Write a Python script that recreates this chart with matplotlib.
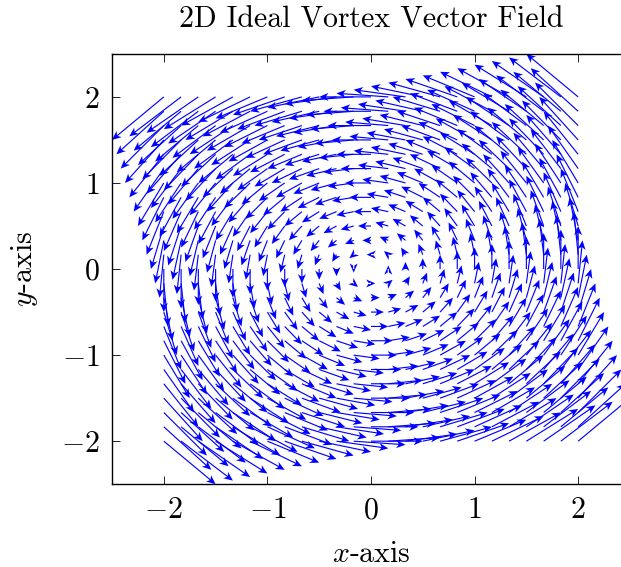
import numpy as np
import matplotlib
matplotlib.use("Agg")
import matplotlib.pyplot as plt

plt.rcParams["font.family"] = "serif"
plt.rcParams["font.serif"] = ["cmr10"]
plt.rcParams["mathtext.fontset"] = "cm"
plt.rcParams["axes.formatter.use_mathtext"] = True

# sample points of the grid (25 per axis, -2..2)
grid = [-2.0, -1.833, -1.667, -1.5, -1.333, -1.167, -1.0, -0.833, -0.667,
        -0.5, -0.333, -0.167, 0.0, 0.167, 0.333, 0.5, 0.667, 0.833, 1.0,
        1.167, 1.333, 1.5, 1.667, 1.833, 2.0]
arrow_scale = 0.25  # vectors drawn at 1/4 length
ticks = [-2, -1, 0, 1, 2]

X, Y = np.meshgrid(grid, grid)
# ideal vortex: u = -y, v = x
U = -Y
V = X
zero = (U == 0) & (V == 0)
U = np.ma.masked_where(zero, U)
V = np.ma.masked_where(zero, V)

fig = plt.figure(figsize=(6.21, 5.67), dpi=100)
# the original picture is cut off on the right, so the axes runs past the edge
ax = fig.add_axes([0.1804, 0.146, 0.834, 0.759])

ax.quiver(X, Y, U * arrow_scale, V * arrow_scale, angles="xy",
          scale_units="xy", scale=1, color="blue", units="dots",
          width=1.15, headwidth=7, headlength=8, headaxislength=6,
          minshaft=0, minlength=0)

ax.set_xlim(-2.5, 2.5)
ax.set_ylim(-2.5, 2.5)
ax.set_xticks(ticks)
ax.set_yticks(ticks)
ax.tick_params(direction="in", top=True, right=True, length=6,
               labelsize=21.5, width=0.6, pad=9)
ax.set_xlabel("$x$-axis", fontsize=21.5, labelpad=12)
ax.set_ylabel("$y$-axis", fontsize=21.5, labelpad=15)
ax.set_title("2D Ideal Vortex Vector Field", fontsize=21.5, pad=19)
for s in ax.spines.values():
    s.set_linewidth(1.0)

fig.savefig("out.png", dpi=100)
